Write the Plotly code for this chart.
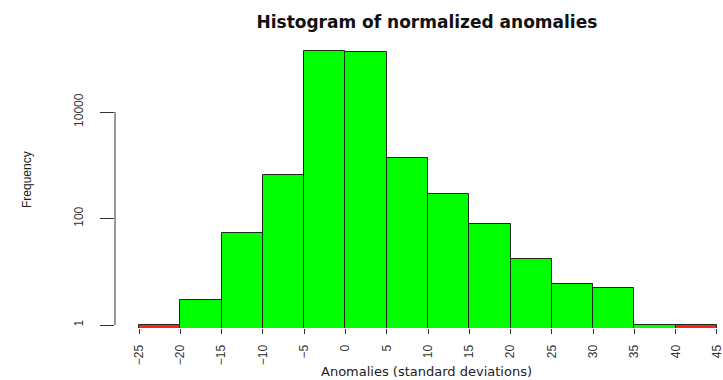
import plotly.graph_objects as go

# Histogram bins (width 5) and their frequencies
bin_left = [-25, -20, -15, -10, -5, 0, 5, 10, 15, 20, 25, 30, 35, 40]
bin_width = 5
counts = [1, 3, 54, 656, 140000, 135000, 1350, 285, 78, 17, 6, 5, 1, 1]
bin_colors = ["#ff2020", "#00ff00", "#00ff00", "#00ff00", "#00ff00", "#00ff00", "#00ff00",
              "#00ff00", "#00ff00", "#00ff00", "#00ff00", "#00ff00", "#00ff00", "#ff2020"]

x_ticks = list(range(-25, 50, 5))
y_ticks = [1, 100, 10000]
y_tick_text = ["1", "100", "10000"]

centers = [b + bin_width / 2 for b in bin_left]

fig = go.Figure()
fig.add_trace(go.Bar(
    x=centers,
    y=counts,
    width=[bin_width] * len(counts),
    marker=dict(color=bin_colors, line=dict(color="#1e2a1e", width=1)),
    showlegend=False,
    hoverinfo="x+y",
))

tick_font = dict(family="Liberation Sans, Arial, sans-serif", size=12, color="#333333")

fig.update_layout(
    width=723,
    height=380,
    margin=dict(l=115, r=0, t=40, b=52),
    paper_bgcolor="white",
    plot_bgcolor="white",
    bargap=0,
    title=dict(
        text="<b>Histogram of normalized anomalies</b>",
        font=dict(family="DejaVu Sans, Verdana, sans-serif", size=17, color="#111111"),
        x=0.513, xref="paper", xanchor="center",
        y=0.942, yref="container", yanchor="middle",
    ),
    xaxis=dict(
        range=[-27.91, 45.73],
        tickvals=x_ticks,
        tickangle=-90,
        ticks="outside",
        ticklen=5,
        tickwidth=1,
        tickcolor="#333333",
        ticklabelstandoff=6,
        ticklabeloverflow="allow",
        showgrid=False,
        zeroline=False,
        showline=False,
        tickfont=tick_font,
    ),
    yaxis=dict(
        type="log",
        range=[-0.0563, 5.352],
        tickvals=y_ticks,
        ticktext=y_tick_text,
        tickangle=-90,
        ticks="outside",
        ticklen=14,
        tickwidth=1,
        tickcolor="#333333",
        ticklabelstandoff=12,
        showgrid=False,
        zeroline=False,
        showline=False,
        tickfont=tick_font,
    ),
    shapes=[
        # y axis line spanning only the labelled decades
        dict(type="line", xref="paper", yref="y", x0=0, x1=0,
             y0=y_ticks[0], y1=y_ticks[-1], line=dict(color="#333333", width=1)),
    ],
    annotations=[
        dict(text="Anomalies (standard deviations)", xref="paper", yref="paper",
             x=0.513, y=-0.182, xanchor="center", yanchor="bottom", showarrow=False,
             borderpad=0,
             font=dict(family="DejaVu Sans, Verdana, sans-serif", size=13, color="#222222")),
        dict(text="Frequency", xref="paper", yref="paper",
             x=-0.1447, y=0.514, xanchor="center", yanchor="middle", showarrow=False,
             textangle=-90,
             font=dict(family="Liberation Sans, Arial, sans-serif", size=12, color="#222222")),
    ],
)

fig.write_html("out.html")
